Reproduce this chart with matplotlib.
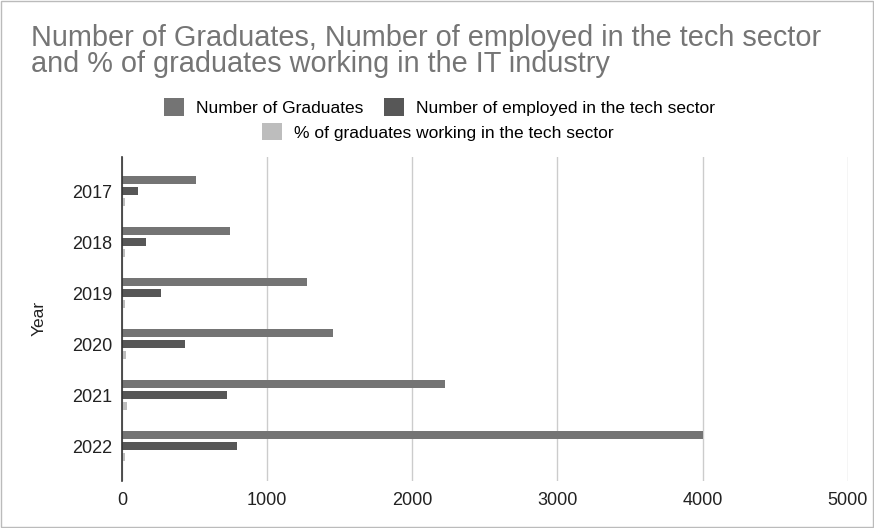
import matplotlib
matplotlib.use("Agg")
import matplotlib.pyplot as plt
import numpy as np
from matplotlib.patches import Rectangle

years = ["2017", "2018", "2019", "2020", "2021", "2022"]
graduates = [510, 744, 1274, 1453, 2225, 4001]
employed = [110, 165, 270, 434, 723, 792]
percent = [21.6, 22.2, 21.2, 29.9, 32.5, 19.8]
series_names = ["Number of Graduates", "Number of employed in the tech sector",
                "% of graduates working in the tech sector"]
colors = ["#747474", "#575757", "#bdbdbd"]
xticks = [0, 1000, 2000, 3000, 4000, 5000]

plt.rcParams['font.family'] = ['Liberation Sans', 'DejaVu Sans']

fig = plt.figure(figsize=(8.74, 5.28), dpi=100)
fig.patch.set_facecolor("white")
fig.patches.append(Rectangle((0.001, 0.001), 0.998, 0.998, transform=fig.transFigure,
                             fill=False, edgecolor="#bbbbbb", linewidth=1))
ax = fig.add_axes([0.1396, 0.089, 0.8304, 0.614])

y = np.arange(len(years))
h = 0.16
off = 0.216
for i, (vals, c, name) in enumerate(zip([graduates, employed, percent], colors, series_names)):
    ax.barh(y + (i - 1) * off, vals, height=h, color=c, label=name, zorder=3)

ax.set_ylim(5.68, -0.67)
ax.set_xlim(0, 5000)
ax.set_xticks(xticks)
ax.set_xticklabels([str(t) for t in xticks], fontsize=13, color="#222222")
ax.set_yticks(y)
ax.set_yticklabels(years, fontsize=13, color="#222222")
ax.tick_params(axis="y", length=0, pad=7)
ax.tick_params(axis="x", length=0, pad=8)
ax.grid(axis="x", color="#cccccc", linewidth=1, zorder=0)
for s in ["top", "right", "bottom"]:
    ax.spines[s].set_visible(False)
ax.spines["left"].set_color("#333333")
ax.spines["left"].set_linewidth(1.2)
ax.spines["left"].set_zorder(4)
ax.set_ylabel("Year", fontsize=12.5, color="#222222", labelpad=18)

fig.text(0.036, 0.955, "Number of Graduates, Number of employed in the tech sector\nand % of graduates working in the IT industry",
         fontsize=20.8, color="#757575", va="top", ha="left", linespacing=0.93)

handles, labels = ax.get_legend_handles_labels()
fig.legend(handles[:2], labels[:2], loc="center", bbox_to_anchor=(0.503, 0.797), ncol=2,
           frameon=False, fontsize=12.5, handlelength=1.15, handleheight=1.15,
           columnspacing=1.2, handletextpad=0.7)
fig.legend(handles[2:], labels[2:], loc="center", bbox_to_anchor=(0.501, 0.75), ncol=1,
           frameon=False, fontsize=12.5, handlelength=1.15, handleheight=1.15, handletextpad=0.7)

fig.savefig("out.png", dpi=100)
